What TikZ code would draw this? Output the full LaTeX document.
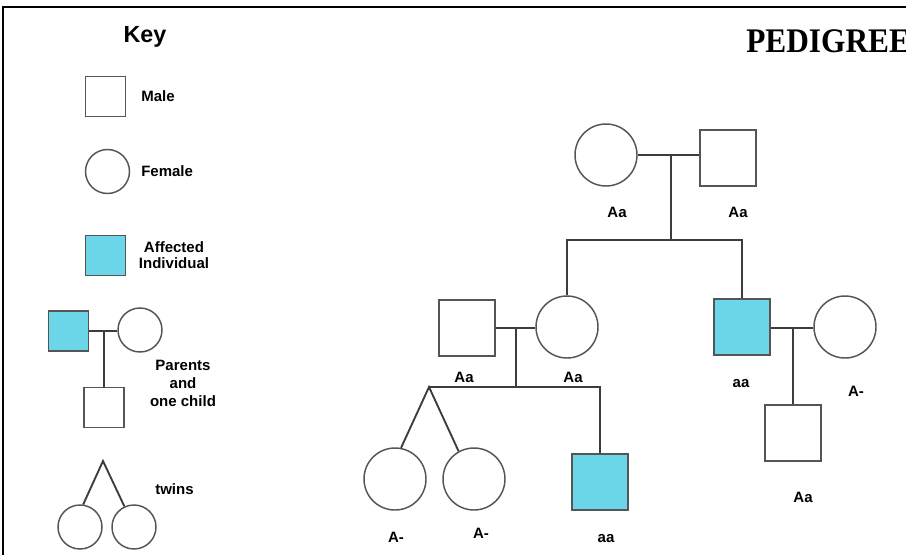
\documentclass[tikz,border=0pt]{standalone}
\usepackage{fontspec}
\setmainfont{Liberation Serif}
\newfontfamily\lsans{Liberation Sans}
\definecolor{affc}{RGB}{106,214,232}
\definecolor{outl}{RGB}{85,85,85}
\definecolor{conn}{RGB}{60,60,60}
\tikzset{
  male/.style={draw=outl, line width=1.1pt, rectangle, inner sep=0pt, fill=white},
  affected/.style={male, fill=affc},
  female/.style={draw=outl, line width=1.1pt, circle, inner sep=0pt, fill=white},
  big/.style={minimum size={56*0.75pt}},
  small/.style={minimum size={40*0.75pt}},
  bigc/.style={minimum size={62*0.75pt}},
  smallc/.style={minimum size={44*0.75pt}},
  link/.style={draw=conn, line width=1.4pt},
  lbl/.style={font=\lsans\bfseries\fontsize{11.25}{13.5}\selectfont, inner sep=0pt},
  keylbl/.style={font=\lsans\bfseries\fontsize{11.25}{12}\selectfont, inner sep=0pt, align=center},
}
\begin{document}
\begin{tikzpicture}[x=0.75pt,y=-0.75pt]
\useasboundingbox (0,0) rectangle (906,554);
\fill[white] (0,0) rectangle (906,554);
% frame
\draw[line width=1.5pt] (3,620) -- (3,7) -- (960,7);
% ---------- Key ----------
\node[font=\lsans\bfseries\fontsize{17.5}{20}\selectfont, inner sep=0pt, anchor=base] (key) at (145,42) {Key};
\node[male, small] (kmale) at (105.5,96.5) {};
\node[keylbl, anchor=west] (kmalet) at (141,96) {Male};
\node[female, smallc] (kfem) at (107.5,171.5) {};
\node[keylbl, anchor=west] (kfemt) at (141,171) {Female};
\node[affected, small] (kaff) at (105.5,255.5) {};
\node[keylbl] (kafft) at (174,255) {Affected\\Individual};
\node[affected, small] (kpm) at (68.5,331) {};
\node[female, smallc] (kpf) at (140,330) {};
\node[male, small] (kpc) at (104,407.5) {};
\coordinate (km) at (104,331);
\draw[link] (kpm.east) -- (kpf.west |- kpm.east);
\draw[link] (km) -- (kpc.north);
\node[font=\lsans\bfseries\fontsize{11.25}{13.5}\selectfont, inner sep=0pt, align=center] (kpt) at (183,383) {Parents\\and\\one child};
\coordinate (kt) at (103,461);
\node[female, smallc] (ktw1) at (80,527) {};
\node[female, smallc] (ktw2) at (134,527) {};
\draw[link] (ktw1.82) -- (kt) -- (ktw2.115);
\node[keylbl, anchor=west] (ktwt) at (155,489) {twins};
% ---------- Pedigree ----------
\node[font=\bfseries\fontsize{23.5}{26}\selectfont, inner sep=0pt, anchor=base west] (title) at (746,52) {\scalebox{1}[1.1]{PEDIGREE}};
% generation 1
\node[female, bigc] (g1f) at (606,155) {};
\node[male, big] (g1m) at (728,158) {};
\coordinate (m1) at (671,155);
\coordinate (s1) at (671,240);
\draw[link] (g1f.east) -- (g1f.east -| g1m.west);
\draw[link] (m1) -- (s1);
\node[lbl] (l1) at (617,212) {Aa};
\node[lbl] (l2) at (738,212) {Aa};
% generation 2
\node[male, big] (g2m) at (467,328) {};
\node[female, bigc] (g2f) at (567,327) {};
\node[affected, big] (g2a) at (742,327) {};
\node[female, bigc] (g2w) at (845,327) {};
\draw[link] (g2f.north) |- (s1) -| (g2a.north);
\coordinate (m2) at (516,328);
\coordinate (s2) at (516,387);
\draw[link] (g2m.east |- m2) -- (g2f.west |- m2);
\draw[link] (m2) -- (s2);
\coordinate (m3) at (793,328);
\draw[link] (g2a.east |- m3) -- (g2w.west |- m3);
\node[lbl] (l3) at (464,377) {Aa};
\node[lbl] (l4) at (573,377) {Aa};
\node[lbl] (l5) at (741,384) {aa};
\node[lbl] (l6) at (856,391) {A-};
% generation 3
\coordinate (t) at (429,387);
\node[female, bigc] (tw1) at (395,479) {};
\node[female, bigc] (tw2) at (474,479) {};
\node[affected, big] (son) at (600,482) {};
\node[male, big] (gc) at (793,433) {};
\draw[link] (t) -| (son.north);
\draw[link] (tw1.79) -- (t) -- (tw2.119);
\draw[link] (m3) -- (gc.north);
\node[lbl] (l7) at (396,537) {A-};
\node[lbl] (l8) at (481,533) {A-};
\node[lbl] (l9) at (606,539) {aa};
\node[lbl] (l10) at (803,497) {Aa};
\end{tikzpicture}
\end{document}
